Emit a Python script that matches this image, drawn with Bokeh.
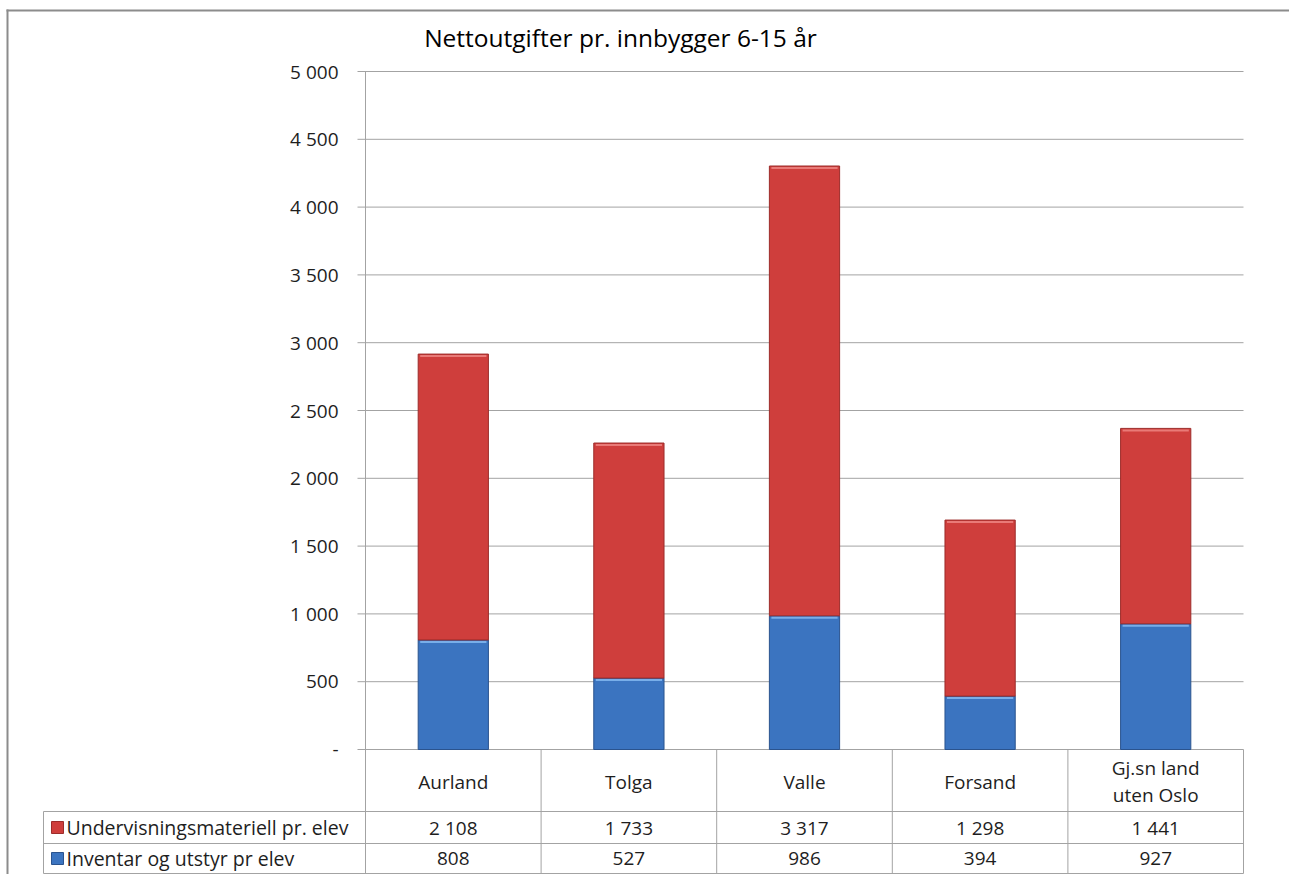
from bokeh.plotting import figure
from bokeh.models import Range1d, ColumnDataSource
from bokeh.core.properties import value
from bokeh.embed import file_html
from bokeh.resources import INLINE

# ---------------- data ----------------
title_text = "Nettoutgifter pr. innbygger 6-15 år"
categories = ["Aurland", "Tolga", "Valle", "Forsand", "Gj.sn land\nuten Oslo"]
series_names = ["Undervisningsmateriell pr. elev", "Inventar og utstyr pr elev"]
undervisning = [2108, 1733, 3317, 1298, 1441]
inventar = [808, 527, 986, 394, 927]
tick_values = [0, 500, 1000, 1500, 2000, 2500, 3000, 3500, 4000, 4500, 5000]
tick_labels = ["-", "500", "1 000", "1 500", "2 000", "2 500", "3 000",
               "3 500", "4 000", "4 500", "5 000"]

# ---------------- layout (canvas pixels) ----------------
W, H = 1289, 874
plot_left, plot_right = 365, 1243
plot_top, plot_bottom = 71, 749
y_max = 5000
row_lines = [811, 843, 873]       # table row borders below header
legend_left = 43

FONT = value("Open Sans")
FS = "19px"
TXT = "#1e1e1e"
GRID = "#a3a3a3"
RED, RED_D, RED_L = "#cf3e3c", "#9c2c2a", "#e97a77"
BLUE, BLUE_D, BLUE_L = "#3b74c0", "#2a538e", "#78aee9"

n = len(categories)
unit = (plot_right - plot_left) / n
x_start = (0 - plot_left) / unit
x_end = (W - plot_left) / unit
scale = (plot_bottom - plot_top) / y_max
y_end = plot_bottom / scale
y_start = -(H - plot_bottom) / scale

p = figure(width=W, height=H, output_backend="svg", toolbar_location=None,
           tools="", x_range=Range1d(x_start, x_end),
           y_range=Range1d(y_start, y_end),
           x_axis_type=None, y_axis_type=None, min_border=0,
           outline_line_color=None, background_fill_color="white",
           border_fill_color="white")
p.extra_x_ranges = {"px": Range1d(0, W)}
p.extra_y_ranges = {"px": Range1d(H, 0)}

# outer chart border
p.segment(x0=[7, 6], y0=[9, 10], x1=[7, W], y1=[H, 10],
          line_color="#8c8c8c", line_width=2, x_range_name="px", y_range_name="px")

# title
p.text(x=[620], y=[37], text=[title_text], text_align="center",
       text_baseline="middle", text_font=FONT, text_font_size="24.5px",
       text_color="#000000", x_range_name="px", y_range_name="px")

# gridlines + tick marks
p.segment(x0=[plot_left - 8] * len(tick_values), x1=[plot_right] * len(tick_values),
          y0=tick_values, y1=tick_values, line_color=GRID, line_width=1,
          x_range_name="px")
# y axis line
p.segment(x0=[0], x1=[0], y0=[0], y1=[y_max], line_color=GRID, line_width=1)
# tick labels
p.text(x=[338] * len(tick_values), y=tick_values, text=tick_labels,
       text_align="right", text_baseline="middle", text_font=FONT,
       text_font_size=FS, text_color=TXT, x_range_name="px")

# stacked bars
xs = [i + 0.5 for i in range(n)]
totals = [a + b for a, b in zip(inventar, undervisning)]
src = ColumnDataSource(dict(x=xs, inv=inventar, und=undervisning))
p.vbar_stack(["inv", "und"], x="x", width=0.4, source=src,
             fill_color=[BLUE, RED], line_color=[BLUE_D, RED_D], line_width=1)
# bevel highlight at the top of each segment (3 px tall)
hl = 3 / scale
p.vbar(x=xs, width=0.4 - 4 / unit, top=[v - 1 / scale for v in inventar],
       bottom=[v - hl for v in inventar], fill_color=BLUE_L, line_color=None)
p.vbar(x=xs, width=0.4 - 4 / unit, top=[v - 1 / scale for v in totals],
       bottom=[v - hl for v in totals], fill_color=RED_L, line_color=None)

# ---------------- data table ----------------
bounds = list(range(n + 1))
p.segment(x0=bounds, x1=bounds, y0=[plot_bottom] * len(bounds),
          y1=[row_lines[-1]] * len(bounds), line_color=GRID, line_width=1,
          y_range_name="px")
p.segment(x0=[legend_left] * len(row_lines), x1=[plot_right] * len(row_lines),
          y0=row_lines, y1=row_lines, line_color=GRID, line_width=1,
          x_range_name="px", y_range_name="px")
p.segment(x0=[legend_left], x1=[legend_left], y0=[row_lines[0]], y1=[row_lines[-1]],
          line_color=GRID, line_width=1, x_range_name="px", y_range_name="px")

# category header
p.text(x=xs, y=[(plot_bottom + row_lines[0]) / 2 + 1] * n, text=categories,
       text_align="center", text_baseline="middle", text_font=FONT,
       text_font_size=FS, text_color=TXT, text_line_height=1.05,
       y_range_name="px")

def fmt(v):
    return f"{v:,}".replace(",", " ")

row_centers = [(row_lines[0] + row_lines[1]) / 2, (row_lines[1] + row_lines[2]) / 2]
for vals, yc in ((undervisning, row_centers[0]), (inventar, row_centers[1])):
    p.text(x=xs, y=[yc] * n, text=[fmt(v) for v in vals], text_align="center",
           text_baseline="middle", text_font=FONT, text_font_size=FS,
           text_color=TXT, y_range_name="px")

# legend keys and names
p.scatter(x=[57, 57], y=row_centers, marker="square", size=12,
          fill_color=[RED, BLUE], line_color=[RED_D, BLUE_D],
          x_range_name="px", y_range_name="px")
p.text(x=[66, 66], y=row_centers, text=series_names, text_align="left",
       text_baseline="middle", text_font=FONT, text_font_size="19.5px",
       text_color=TXT, x_range_name="px", y_range_name="px")

open("out.html", "w").write(file_html(p, INLINE))
